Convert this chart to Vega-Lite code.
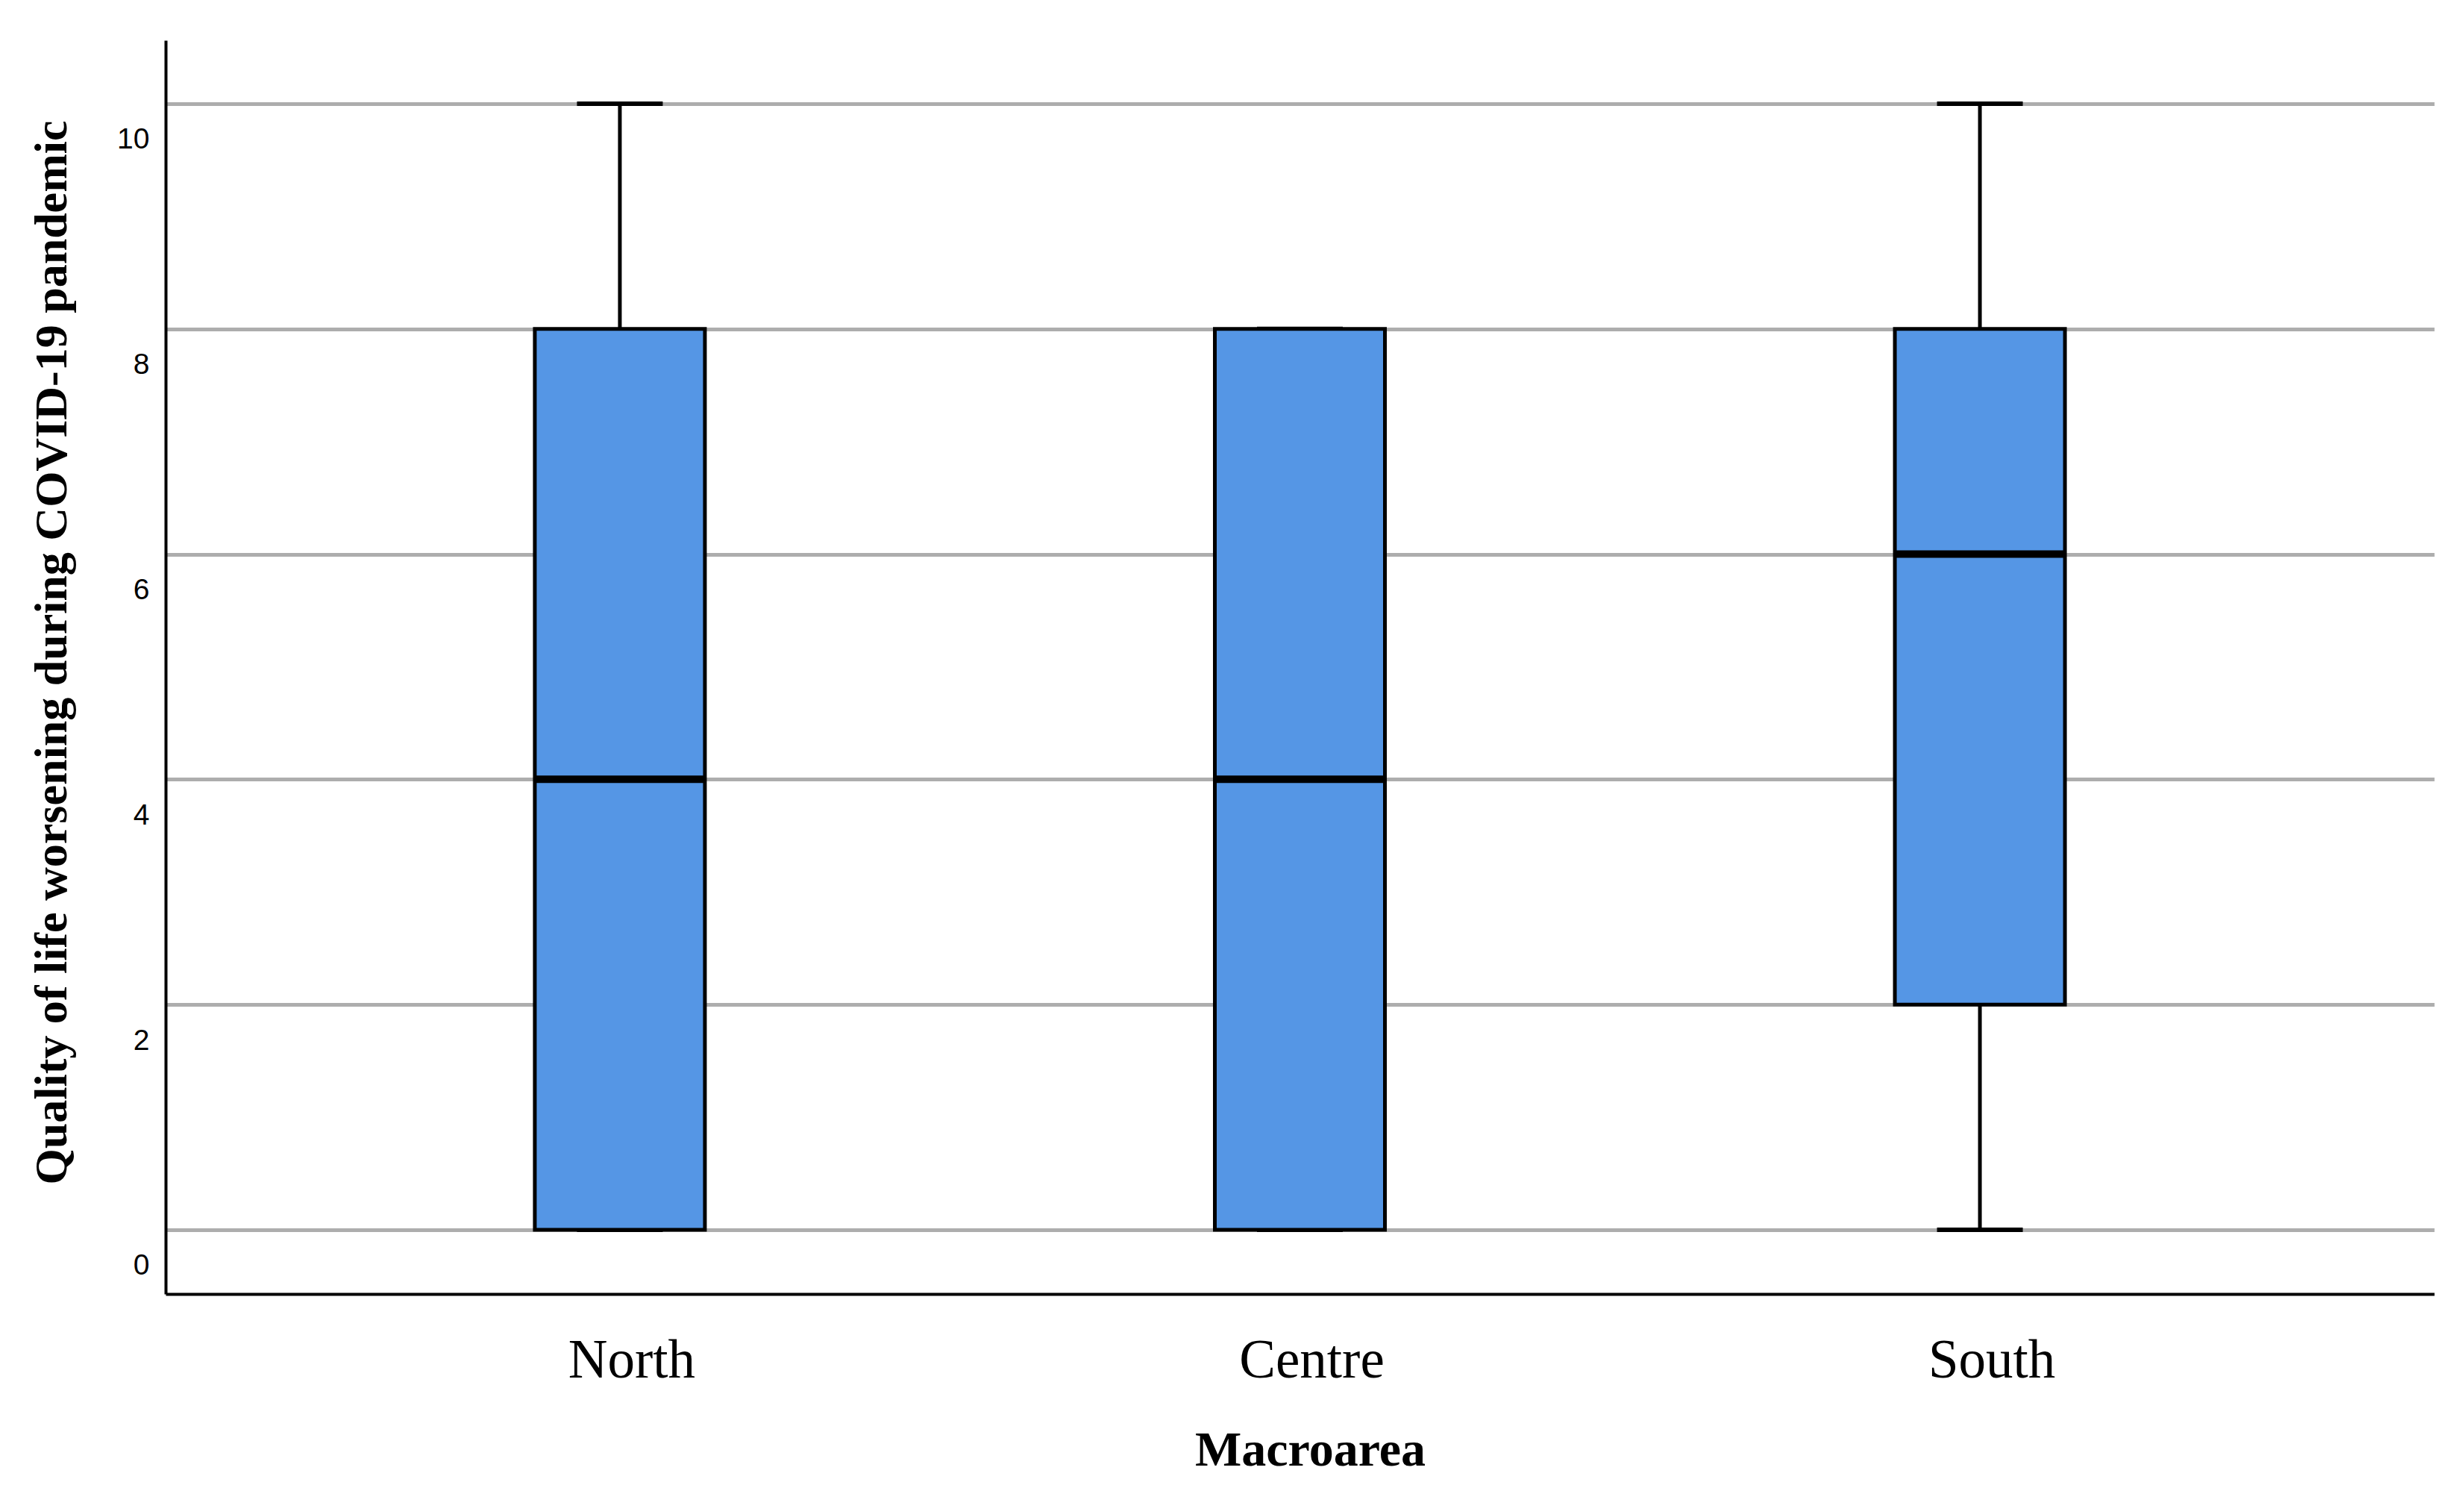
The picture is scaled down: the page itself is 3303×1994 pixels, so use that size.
{
  "$schema": "https://vega.github.io/schema/vega-lite/v6.json",
  "width": 3041,
  "height": 1680,
  "autosize": {"type": "none"},
  "padding": {"left": 222, "top": 54, "right": 40, "bottom": 260},
  "background": "white",
  "config": {"view": {"stroke": null}},
  "data": {
    "values": [
      {"region": "North", "min": 0, "q1": 0, "median": 4, "q3": 8, "max": 10},
      {"region": "Centre", "min": 0, "q1": 0, "median": 4, "q3": 8, "max": 8},
      {"region": "South", "min": 0, "q1": 2, "median": 6, "q3": 8, "max": 10}
    ]
  },
  "encoding": {
    "x": {
      "field": "region",
      "type": "nominal",
      "sort": ["North", "Centre", "South"],
      "scale": {"type": "band", "paddingInner": 0, "paddingOuter": 0.168},
      "axis": {
        "title": "Macroarea",
        "labelAngle": 0,
        "labelLimit": 0,
        "labelOffset": 16,
        "ticks": false,
        "tickSize": 0,
        "grid": false,
        "domainColor": "black",
        "domainWidth": 4,
        "labelFont": "Liberation Serif",
        "labelFontSize": 73,
        "labelColor": "black",
        "labelBaseline": "alphabetic",
        "labelPadding": 111,
        "titleFont": "Liberation Serif",
        "titleFontSize": 66,
        "titleFontWeight": "bold",
        "titleColor": "black",
        "titleBaseline": "alphabetic",
        "titleAlign": "center",
        "titleX": 1534,
        "titleY": 229
      }
    }
  },
  "layer": [
    {
      "mark": {"type": "rule", "color": "black", "strokeWidth": 5},
      "encoding": {
        "y": {
          "field": "min",
          "type": "quantitative",
          "scale": {"domain": [-0.57, 10.563], "nice": false, "zero": false},
          "axis": {
            "title": "Quality of life worsening during COVID-19 pandemic",
            "values": [0, 2, 4, 6, 8, 10],
            "format": "d",
            "ticks": false,
            "tickSize": 0,
            "grid": true,
            "gridColor": "#adadad",
            "gridWidth": 5,
            "domainColor": "black",
            "domainWidth": 4,
            "labelFont": "Liberation Sans",
            "labelFontSize": 39,
            "labelColor": "black",
            "labelBaseline": "middle",
            "labelOffset": 48,
            "labelPadding": 22,
            "titleFont": "Liberation Serif",
            "titleFontSize": 62,
            "titleFontWeight": "bold",
            "titleColor": "black",
            "titleAngle": -90,
            "titleAlign": "center",
            "titleBaseline": "alphabetic",
            "titleX": -134,
            "titleY": 820
          }
        },
        "y2": {"field": "q1"}
      }
    },
    {
      "mark": {"type": "rule", "color": "black", "strokeWidth": 5},
      "encoding": {
        "y": {"field": "q3", "type": "quantitative"},
        "y2": {"field": "max"}
      }
    },
    {
      "mark": {"type": "tick", "color": "black", "size": 115, "thickness": 6, "opacity": 1, "orient": "horizontal"},
      "encoding": {"y": {"field": "min", "type": "quantitative"}}
    },
    {
      "mark": {"type": "tick", "color": "black", "size": 115, "thickness": 6, "opacity": 1, "orient": "horizontal"},
      "encoding": {"y": {"field": "max", "type": "quantitative"}}
    },
    {
      "mark": {"type": "bar", "width": 228, "fill": "#5596e5", "stroke": "black", "strokeWidth": 5, "opacity": 1},
      "encoding": {
        "y": {"field": "q1", "type": "quantitative"},
        "y2": {"field": "q3"}
      }
    },
    {
      "mark": {"type": "tick", "color": "black", "size": 228, "thickness": 10, "opacity": 1, "orient": "horizontal"},
      "encoding": {"y": {"field": "median", "type": "quantitative"}}
    }
  ]
}
